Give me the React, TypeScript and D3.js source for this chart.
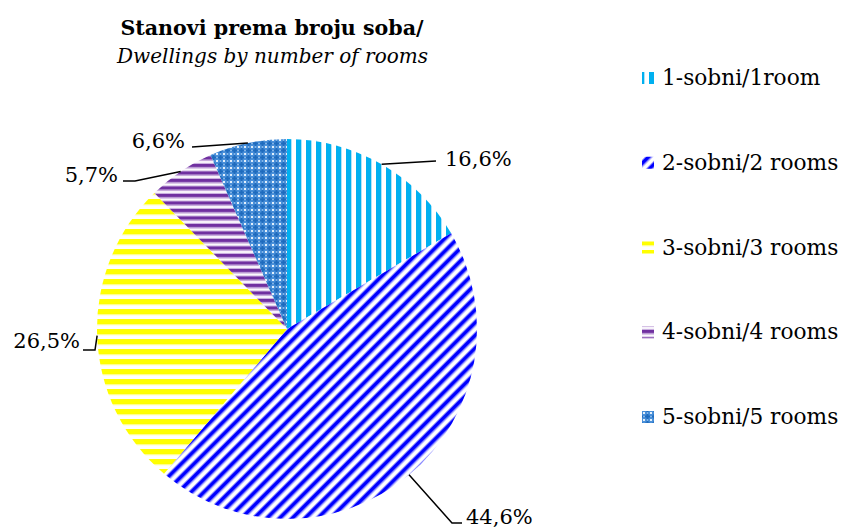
import React from "react";
import * as d3 from "d3";

const categories = ["1-sobni/1room", "2-sobni/2 rooms", "3-sobni/3 rooms", "4-sobni/4 rooms", "5-sobni/5 rooms"];
const values = [16.6, 44.6, 26.5, 5.7, 6.6];
const valueLabels = ["16,6%", "44,6%", "26,5%", "5,7%", "6,6%"];
const titleLine1 = "Stanovi prema broju soba/";
const titleLine2 = "Dwellings by number of rooms";

// layout (relative to pie centre): knee and end of leader lines, text anchor side
const leaderLayout = [
  { knee: [149, -168], end: [149, -168], side: "start", tdx: 9, tdy: 5 },
  { knee: [165, 194], end: [175, 194], side: "start", tdx: 4, tdy: 1 },
  { knee: [-192, 21], end: [-204, 21], side: "end", tdx: -3, tdy: -2 },
  { knee: [-152, -148], end: [-164, -148], side: "end", tdx: -5, tdy: 1 },
  { knee: [-95, -182], end: [-95, -182], side: "end", tdx: -7, tdy: 1 },
];

const patternIds = ["p1", "p2", "p3", "p4", "p5"];

const W = 843, H = 529;
const cx = 287, cy = 329, R = 190;
const FONT = "'DejaVu Serif', serif";

export default function App() {
  const pie = d3.pie<number>().sort(null).value((d) => d).startAngle(0).endAngle(2 * Math.PI);
  const arcs = pie(values);
  const arcGen = d3.arc<d3.PieArcDatum<number>>().innerRadius(0).outerRadius(R);

  const legendY = d3.scalePoint<string>().domain(categories).range([78, 417]);

  return (
    <svg width={W} height={H} style={{ position: "absolute", left: 0, top: 0, background: "#fff" }}>
      <defs>
        <pattern id="p1" patternUnits="userSpaceOnUse" width={10} height={10} x={cx + 2} y={0}>
          <rect width={10} height={10} fill="#fff" />
          <rect x={0} width={5} height={10} fill="#00B0F0" />
          <rect x={-0.7} width={0.7} height={10} fill="#9ADCF7" />
          <rect x={5} width={0.8} height={10} fill="#9ADCF7" />
        </pattern>
        <pattern id="p2" patternUnits="userSpaceOnUse" width={9} height={9} patternTransform="rotate(45)">
          <rect width={9} height={9} fill="#fff" />
          <rect x={0.6} width={4} height={9} fill="#0000FF" />
          <rect x={0} width={0.6} height={9} fill="#8080FF" />
          <rect x={4.6} width={0.8} height={9} fill="#8080FF" />
        </pattern>
        <pattern id="p3" patternUnits="userSpaceOnUse" width={10} height={10}>
          <rect width={10} height={10} fill="#fff" />
          <rect y={0} width={10} height={5.5} fill="#FFFF00" />
          <rect y={5.5} width={10} height={0.8} fill="#FFFF99" />
        </pattern>
        <pattern id="p4" patternUnits="userSpaceOnUse" width={7.5} height={7.5}>
          <rect width={7.5} height={7.5} fill="#fff" />
          <rect y={0} width={7.5} height={3.3} fill="#7030A0" />
          <rect y={3.3} width={7.5} height={1.1} fill="#B793D3" />
          <rect y={6.4} width={7.5} height={1.1} fill="#C9AEDF" />
        </pattern>
        <pattern id="p5" patternUnits="userSpaceOnUse" width={7} height={7}>
          <rect width={7} height={7} fill="#4A90D9" />
          <rect x={2.5} y={1} width={2} height={5} fill="#1E6BBE" />
          <rect x={1} y={2.5} width={5} height={2} fill="#1E6BBE" />
          <rect x={-1} y={-1} width={2} height={2} fill="#E4F0FB" />
          <rect x={6} y={-1} width={2} height={2} fill="#E4F0FB" />
          <rect x={-1} y={6} width={2} height={2} fill="#E4F0FB" />
          <rect x={6} y={6} width={2} height={2} fill="#E4F0FB" />
          <rect x={3} y={-0.5} width={1} height={1} fill="#BFD9F2" />
          <rect x={-0.5} y={3} width={1} height={1} fill="#BFD9F2" />
          <rect x={6.5} y={3} width={1} height={1} fill="#BFD9F2" />
          <rect x={3} y={6.5} width={1} height={1} fill="#BFD9F2" />
        </pattern>
      </defs>

      <text x={272} y={35} textAnchor="middle" fontFamily={FONT} fontWeight="bold" fontSize={20.6}>
        {titleLine1}
      </text>
      <text x={272.5} y={63} textAnchor="middle" fontFamily={FONT} fontStyle="italic" fontSize={20}>
        {titleLine2}
      </text>

      <g transform={`translate(${cx},${cy})`}>
        {arcs.map((a, i) => (
          <path key={i} d={arcGen(a) || ""} fill={`url(#${patternIds[i]})`} />
        ))}
        {arcs.map((a, i) => {
          const mid = (a.startAngle + a.endAngle) / 2;
          const sx = Math.sin(mid) * R;
          const sy = -Math.cos(mid) * R;
          const L = leaderLayout[i];
          const pts = [[sx, sy], L.knee, L.end];
          return (
            <g key={"l" + i}>
              <polyline
                points={pts.map((p) => p.join(",")).join(" ")}
                fill="none"
                stroke="#000"
                strokeWidth={1.5}
              />
              <text
                x={L.end[0] + L.tdx}
                y={L.end[1] + L.tdy}
                textAnchor={L.side as any}
                fontFamily={FONT}
                fontSize={21}
              >
                {valueLabels[i]}
              </text>
            </g>
          );
        })}
      </g>

      <g>
        {categories.map((c, i) => {
          const y = legendY(c)!;
          return (
            <g key={c}>
              <rect x={642} y={y - 6} width={12} height={12} fill={`url(#${patternIds[i]})`} />
              <text x={662} y={y + 7} fontFamily={FONT} fontSize={21.7}>
                {c}
              </text>
            </g>
          );
        })}
      </g>
    </svg>
  );
}
